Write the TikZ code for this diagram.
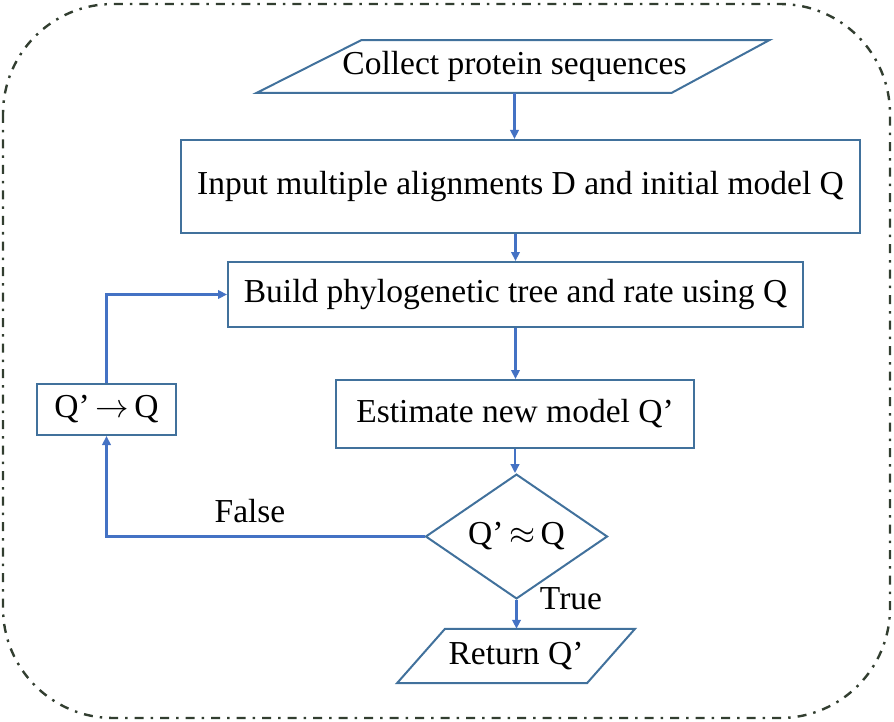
\RequirePackage{fix-cm}
\documentclass[tikz,border=0pt]{standalone}
\usepackage{fontspec}
\setmainfont{Liberation Serif}
\usetikzlibrary{shapes.geometric,arrows.meta,calc}
\definecolor{boxc}{RGB}{65,113,156}
\definecolor{arrc}{RGB}{68,114,196}
\definecolor{framec}{RGB}{50,62,48}
\begin{document}
\begin{tikzpicture}[x=1pt,y=-1pt,
  txt/.style={font=\fontsize{33.5}{38}\selectfont, text=black, inner sep=0pt, text height=22pt, text depth=6pt},
  boxn/.style={txt, draw=boxc, line width=2pt, rectangle},
  plainn/.style={txt, draw=none, rectangle},
  shapeline/.style={draw=boxc, line width=2pt, line join=miter},
  conn/.style={draw=arrc, line width=2.6pt, -{Triangle[length=9pt,width=8.5pt]}},
  lbl/.style={font=\fontsize{33.5}{38}\selectfont, text=black, inner sep=0pt}]
\useasboundingbox (0,0) rectangle (894,722);
\draw[framec, line width=2.4pt, rounded corners=110pt, dash pattern=on 9pt off 7pt on 2.5pt off 7pt] (3,4) rectangle (890,718);
% nodes
\node[plainn, minimum width=310pt, minimum height=52.5pt] (n1) at (514.5,66.5) {Collect protein sequences};
\draw[shapeline] ($(n1.north)+(-153,0)$) -- ($(n1.north)+(255,0)$) -- ($(n1.south)+(157,0)$) -- ($(n1.south)+(-258,0)$) -- cycle;
\node[boxn, minimum width=679pt, minimum height=93pt] (n2) at (520.5,186.5) {Input multiple alignments D and initial model Q};
\node[boxn, minimum width=575pt, minimum height=65pt] (n3) at (515.5,294.5) {Build phylogenetic tree and rate using Q};
\node[boxn, minimum width=358pt, minimum height=68pt] (n4) at (515,414) {Estimate new model Q’};
\node[txt, draw=boxc, line width=2pt, diamond, minimum width=182pt, minimum height=75pt] (n5) at (516.5,536.5) {Q’\,$\approx$\,Q};
\node[plainn, minimum width=142pt, minimum height=54pt] (n6) at (516,656) {Return Q’};
\draw[shapeline] ($(n6.north)+(-71,0)$) -- ($(n6.north)+(119,0)$) -- ($(n6.south)+(71,0)$) -- ($(n6.south)+(-119,0)$) -- cycle;
\node[boxn, minimum width=139pt, minimum height=51pt] (n7) at (106.5,409.5) {Q’\,$\rightarrow$\,Q};
\node[lbl] (lf) at (250,511) {False};
\node[lbl] (lt) at (571,599) {True};
% connectors
\draw[conn] (n1.south) -- (n1.south |- n2.north);
\draw[conn] (n3.north |- n2.south) -- (n3.north);
\draw[conn] (n3.south) -- (n3.south |- n4.north);
\draw[conn] (n4.south) -- (n4.south |- n5.north);
\draw[conn] (n5.south) -- (n5.south |- n6.north);
\draw[conn] (n5.west) -| (n7.south);
\draw[conn] (n7.north) |- (n3.west);
\end{tikzpicture}
\end{document}
